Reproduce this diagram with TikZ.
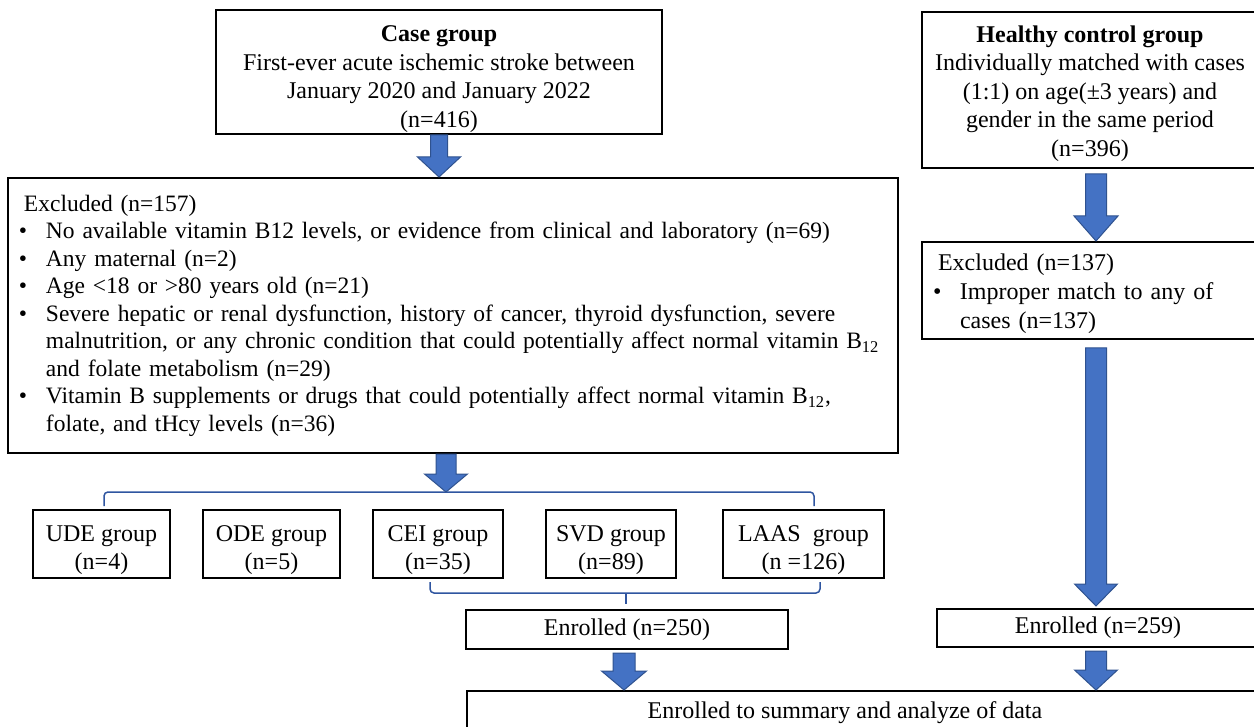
\documentclass[tikz,border=0pt]{standalone}
\usepackage{fontspec}
\setmainfont{Liberation Serif}
\usetikzlibrary{calc}
\definecolor{arrfill}{RGB}{68,114,196}
\definecolor{arrline}{RGB}{47,82,143}
\definecolor{bracecol}{RGB}{47,85,160}
\newcommand\mybul{\makebox[14pt][l]{\hspace*{0.5pt}\textbullet}}
\newcommand\myind{\hspace*{14pt}}
\newcommand\mybulb{\makebox[14pt][l]{\hspace*{0.5pt}\textbullet}}
\newcommand\myindb{\hspace*{14pt}}
\newcommand\lift[1]{\rule{0pt}{\dimexpr 9pt+#1\relax}}
% #1 start, #2 tip, #3 half shaft, #4 half head, #5 head length
\newcommand\blockarr[5]{%
  \path[barrow] let \p1=(#1), \p2=(#2) in
    (\x1-#3,\y1) -- (\x1+#3,\y1) -- (\x1+#3,\y2+#5) -- (\x1+#4,\y2+#5)
    -- (\x1,\y2) -- (\x1-#4,\y2+#5) -- (\x1-#3,\y2+#5) -- cycle;}
\begin{document}
\begin{tikzpicture}[x=0.5pt,y=-0.5pt,
  box/.style={draw=black,line width=1pt,fill=white,inner sep=0pt,align=center,
    font=\fontsize{12}{14}\selectfont},
  barrow/.style={fill=arrfill,draw=arrline,line width=0.5pt,line join=miter},
  brace/.style={draw=bracecol,line width=0.75pt,rounded corners=2pt},
  txt/.style={inner sep=0pt,font=\fontsize{12}{14}\selectfont}]
\useasboundingbox[fill=white] (0,0) rectangle (1254,727);

% top boxes
\node[box,minimum width=223pt,minimum height=62pt,font=\fontsize{12}{14.25}\selectfont] (case) at (439,72)
  {\lift{6pt}\textbf{Case group}\\First-ever acute ischemic stroke between\\January 2020 and January 2022\\(n=416)};
\node[box,minimum width=168pt,minimum height=78pt,font=\fontsize{12}{14.25}\selectfont] (healthy) at (1090,90)
  {\lift{3pt}\textbf{Healthy control group}\\Individually matched with cases\\(1:1) on age(\textpm3 years) and\\gender in the same period\\(n=396)};

% exclusion boxes
\node[box,minimum width=445pt,minimum height=137.5pt,text width=435pt,align=left,
  font=\fontsize{11.75}{13.75}\selectfont] (excl1) at (453,315.5)
  {\mbox{\hspace*{3pt}Excluded (n=157)}\\
   \mbox{\mybul No available vitamin B12 levels, or evidence from clinical and laboratory (n=69)}\\
   \mbox{\mybul Any maternal (n=2)}\\
   \mbox{\mybul Age <18 or >80 years old (n=21)}\\
   \mbox{\mybul Severe hepatic or renal dysfunction, history of cancer, thyroid dysfunction, severe}\\
   \mbox{\myind malnutrition, or any chronic condition that could potentially affect normal vitamin B\textsubscript{12}}\\
   \mbox{\myind and folate metabolism (n=29)}\\
   \mbox{\mybul Vitamin B supplements or drugs that could potentially affect normal vitamin B\textsubscript{12},}\\
   \mbox{\myind folate, and tHcy levels (n=36)}};
\node[box,minimum width=168pt,minimum height=48.5pt,text width=158pt,align=left,
  font=\fontsize{12}{14.5}\selectfont] (excl2) at (1090,290.5)
  {\lift{3pt}\hspace*{3pt}Excluded (n=137)\\
   \mybulb Improper match to any of\\
   \myindb cases (n=137)};

% subgroup boxes
\node[box,minimum width=68.5pt,minimum height=34pt] (ude) at (101.5,544) {\lift{5pt}UDE group\\(n=4)};
\node[box,minimum width=68.5pt,minimum height=34pt] (ode) at (271.5,544) {\lift{5pt}ODE group\\(n=5)};
\node[box,minimum width=65pt,minimum height=34pt] (cei) at (438,544) {\lift{5pt}CEI group\\(n=35)};
\node[box,minimum width=65pt,minimum height=34pt] (svd) at (611,544) {\lift{5pt}SVD group\\(n=89)};
\node[box,minimum width=80.5pt,minimum height=34pt] (laas) at (803.5,544) {\lift{5pt}LAAS\ \ group\\(n =126)};

% enrolled boxes
\node[box,minimum width=161pt,minimum height=19.5pt] (enr1) at (627,629.5) {Enrolled (n=250)};
\node[box,minimum width=161pt,minimum height=19pt] (enr2) at (1098,628) {Enrolled (n=259)};
\node[box,minimum width=397.5pt,minimum height=39.5pt] (final) at (864.5,730.5) {};
\node[txt] (finaltxt) at (845,713) {Enrolled to summary and analyze of data};

% brackets
\coordinate (brL) at (104,506);
\coordinate (brR) at (814,506);
\coordinate (brtop) at (446,492);
\draw[brace] (brL) |- (brtop) -| (brR);
\coordinate (brl2) at (430,582);
\coordinate (brr2) at (820,582);
\coordinate (brc2) at (626,593);
\draw[brace] (brl2) |- (brc2) -| (brr2);
\draw[draw=bracecol,line width=0.75pt] (brc2) -- ([yshift=2.5pt]enr1.north -| brc2);

% block arrows
\blockarr{case.south}{excl1.north -| case.south}{4.25pt}{10.75pt}{10pt}
\blockarr{excl1.south -| brtop}{brtop}{5pt}{10.75pt}{9pt}
\blockarr{[xshift=3pt,yshift=-2.5pt]healthy.south}{excl2.north}{5.25pt}{11pt}{12.5pt}
\blockarr{[xshift=3pt,yshift=-4pt]excl2.south}{[yshift=1pt]enr2.north}{5.25pt}{10.75pt}{11pt}
\blockarr{[xshift=-1.5pt,yshift=-1.5pt]enr1.south}{final.north}{5.5pt}{11.25pt}{9.5pt}
\blockarr{[xshift=-1pt,yshift=-1.5pt]enr2.south}{final.north}{5.25pt}{10.75pt}{10pt}
\end{tikzpicture}
\end{document}
